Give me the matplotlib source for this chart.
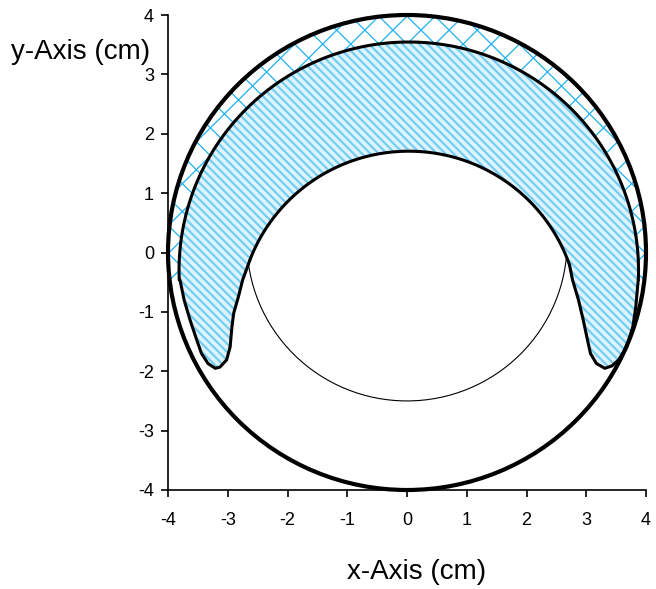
import numpy as np
import matplotlib
matplotlib.use('Agg')
import matplotlib.pyplot as plt
from matplotlib.patches import Polygon, Circle

plt.rcParams['font.family'] = ['Liberation Sans', 'DejaVu Sans']
plt.rcParams['axes.unicode_minus'] = False
plt.rcParams['hatch.linewidth'] = 1.6
plt.rcParams['hatch.color'] = '#74cdf2'

# geometry (cm)
outer_center = (0.0, 0.0)
outer_r = 4.0
band_center = (0.03, -0.30)
band_r = 3.845
inner_center = (0.03, -1.14)
inner_r = 2.846
thin_center = (0.0, 0.18)
thin_r = 2.68
cross_bottom = -0.55

# crescent tips (left: outer edge -> inner edge, right: inner edge -> outer edge)
left_tip_x = [-3.80, -3.73, -3.63, -3.52, -3.44, -3.33, -3.21, -3.13, -3.02, -2.96,
              -2.93, -2.90, -2.82, -2.75, -2.63]
left_tip_y = [-0.46, -0.80, -1.14, -1.47, -1.70, -1.87, -1.95, -1.93, -1.81, -1.59,
              -1.25, -1.02, -0.74, -0.46, -0.13]
right_tip_x = [2.72, 2.77, 2.87, 2.95, 3.02, 3.07, 3.17, 3.31, 3.43, 3.54, 3.68, 3.78,
               3.83, 3.87]
right_tip_y = [-0.21, -0.46, -0.80, -1.14, -1.47, -1.70, -1.87, -1.95, -1.91, -1.81,
               -1.59, -1.25, -0.91, -0.46]

ticks = [-4, -3, -2, -1, 0, 1, 2, 3, 4]


def arc(center, r, a0, a1, n=200):
    t = np.linspace(a0, a1, n)
    return np.column_stack((center[0] + r * np.cos(t), center[1] + r * np.sin(t)))


def angle(center, x, y):
    return np.arctan2(y - center[1], x - center[0])


fig = plt.figure(figsize=(6.56, 5.89), dpi=100)
ax = fig.add_axes([168 / 656, 99 / 589, 478 / 656, 475 / 589])

# cross-hatched gap between big circle and crescent
a_out = np.arcsin((cross_bottom - outer_center[1]) / outer_r)
a_band = np.arcsin((cross_bottom - band_center[1]) / band_r)
gap = np.vstack((arc(outer_center, outer_r, a_out, np.pi - a_out),
                 arc(band_center, band_r, np.pi - a_band, a_band)))
gap_patch = Polygon(gap, closed=True, facecolor='white', edgecolor='none', zorder=1)
ax.add_patch(gap_patch)
d = 0.47
for k in np.arange(-12, 12, d):
    for s in (1, -1):
        ln, = ax.plot([-6, 6], [s * -6 + k, s * 6 + k], color='#1fb0ee', lw=0.9, zorder=1.5)
        ln.set_clip_path(gap_patch)

# thin circle
ax.add_patch(Circle(thin_center, thin_r, fill=False, edgecolor='black', lw=0.8, zorder=2))

# crescent
a_r = angle(band_center, right_tip_x[-1], right_tip_y[-1])
a_l = angle(band_center, left_tip_x[0], left_tip_y[0])
if a_l < a_r:
    a_l += 2 * np.pi
b_l = angle(inner_center, left_tip_x[-1], left_tip_y[-1])
b_r = angle(inner_center, right_tip_x[0], right_tip_y[0])
crescent = np.vstack((arc(band_center, band_r, a_r, a_l),
                      np.column_stack((left_tip_x, left_tip_y)),
                      arc(inner_center, inner_r, b_l, b_r),
                      np.column_stack((right_tip_x, right_tip_y))))
ax.add_patch(Polygon(crescent, closed=True, facecolor='#dff3fc', edgecolor='#74cdf2',
                     lw=0, hatch='\\\\\\\\', zorder=3))
ax.add_patch(Polygon(crescent, closed=True, fill=False, edgecolor='black', lw=2.2,
                     joinstyle='round', zorder=4))

# big circle
ax.add_patch(Circle(outer_center, outer_r, fill=False, edgecolor='black', lw=3.0,
                    zorder=5, clip_on=False))

ax.set_xlim(-4, 4)
ax.set_ylim(-4, 4)
ax.set_xticks(ticks)
ax.set_yticks(ticks)
ax.set_xticklabels([str(t) for t in ticks])
ax.set_yticklabels([str(t) for t in ticks])
ax.spines['top'].set_visible(False)
ax.spines['right'].set_visible(False)
ax.spines['left'].set_linewidth(1.2)
ax.spines['bottom'].set_linewidth(1.2)
ax.tick_params(axis='both', labelsize=13, length=5, width=1.2, direction='out')
ax.tick_params(axis='x', pad=11)
ax.tick_params(axis='y', pad=5)

ax.set_xlabel('x-Axis (cm)', fontsize=20, va='center')
ax.xaxis.set_label_coords(0.52, -0.173)
ax.set_ylabel('y-Axis (cm)', fontsize=20, rotation=0, ha='right', va='center')
ax.yaxis.set_label_coords(-0.038, 0.922)

fig.savefig('out.png', dpi=100)
